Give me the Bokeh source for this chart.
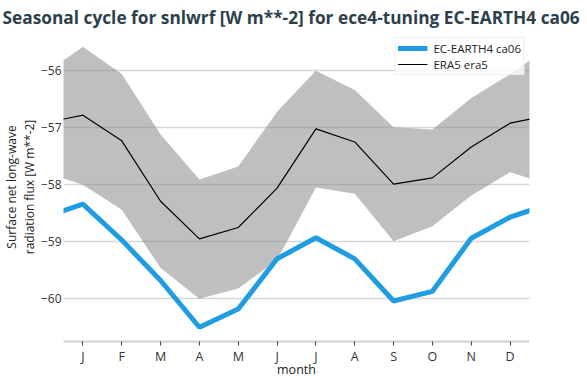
from bokeh.plotting import figure
from bokeh.models import Range1d, FixedTicker, Legend, LegendItem, ColumnDataSource
from bokeh.embed import file_html
from bokeh.resources import INLINE

months = [1, 2, 3, 4, 5, 6, 7, 8, 9, 10, 11, 12]
month_labels = ["J", "F", "M", "A", "M", "J", "J", "A", "S", "O", "N", "D"]
model = [-58.34, -58.97, -59.68, -60.50, -60.18, -59.30, -58.93, -59.30, -60.04, -59.87, -58.94, -58.57]
era5 = [-56.78, -57.23, -58.29, -58.95, -58.75, -58.06, -57.02, -57.25, -57.99, -57.88, -57.34, -56.92]
era5_upper = [-55.58, -56.06, -57.12, -57.91, -57.68, -56.72, -56.00, -56.34, -56.99, -57.03, -56.48, -56.06]
era5_lower = [-58.00, -58.44, -59.46, -60.00, -59.82, -59.32, -58.05, -58.16, -58.99, -58.73, -58.19, -57.78]
y_ticks = [-60, -59, -58, -57, -56]


def wrap(v):
    return [v[-1]] + list(v) + [v[0]]


xs = [0] + months + [13]
src = ColumnDataSource(dict(x=xs, model=wrap(model), era5=wrap(era5),
                            up=wrap(era5_upper), lo=wrap(era5_lower)))

FONT = "Open Sans"

p = figure(width=587, height=380, output_backend="svg", toolbar_location=None,
           x_range=Range1d(0.5, 12.5), y_range=Range1d(-60.75, -55.33),
           title="Seasonal cycle for snlwrf [W m**-2] for ece4-tuning EC-EARTH4 ca06")
p.min_border_left = 40
p.min_border_right = 58
p.min_border_top = 0
p.min_border_bottom = 0
p.outline_line_color = None

p.title.text_font = FONT
p.title.text_font_size = "17.3px"
p.title.text_font_style = "bold"
p.title.text_color = "#2e3f4c"
p.title.offset = -61
p.title.standoff = 7

band = p.varea(x="x", y1="lo", y2="up", source=src, fill_color="gray", fill_alpha=0.5)
r_model = p.line(x="x", y="model", source=src, line_color="#1f9de0", line_width=5)
r_era5 = p.line(x="x", y="era5", source=src, line_color="black", line_width=1.2)

p.xgrid.grid_line_color = None
p.ygrid.grid_line_color = "#d8d8d8"
p.ygrid.grid_line_width = 1.5

p.xaxis.ticker = FixedTicker(ticks=months)
p.xaxis.major_label_overrides = {m: l for m, l in zip(months, month_labels)}
p.xaxis.axis_label = "month"
p.xaxis.axis_line_color = "#cfcfcf"
p.xaxis.axis_line_width = 2
p.xaxis.major_tick_line_color = "#444444"
p.xaxis.major_tick_out = 4
p.xaxis.major_tick_in = 0
p.xaxis.minor_tick_line_color = None
p.xaxis.major_label_standoff = 2
p.xaxis.axis_label_standoff = -7
p.xaxis.major_label_text_font_size = "12.5px"
p.xaxis.axis_label_text_font_size = "12.5px"

p.yaxis.ticker = FixedTicker(ticks=y_ticks)
p.yaxis.major_label_overrides = {t: ("\u2212" + str(abs(t))) for t in y_ticks}
p.yaxis.axis_label = "Surface net long-wave\nradiation flux [W m**-2]"
p.yaxis.axis_line_color = None
p.yaxis.major_tick_line_color = None
p.yaxis.major_tick_out = 0
p.yaxis.major_tick_in = 0
p.yaxis.minor_tick_line_color = None
p.yaxis.major_label_standoff = 2
p.yaxis.axis_label_standoff = 0
p.yaxis.axis_label_text_line_height = 1.05
p.yaxis.major_label_text_font_size = "12px"
p.yaxis.axis_label_text_font_size = "12px"

for ax in (p.xaxis[0], p.yaxis[0]):
    ax.major_label_text_font = FONT
    ax.major_label_text_color = "#333333"
    ax.axis_label_text_font = FONT
    ax.axis_label_text_font_style = "normal"
    ax.axis_label_text_color = "#222222"

legend = Legend(items=[LegendItem(label="EC-EARTH4 ca06", renderers=[r_model]),
                       LegendItem(label="ERA5 era5", renderers=[r_era5])],
                location="top_right")
legend.margin = 5
legend.padding = 2
legend.spacing = 0
legend.glyph_width = 30
legend.glyph_height = 16
legend.label_height = 16
legend.label_standoff = 6
legend.label_text_font = FONT
legend.label_text_font_size = "11.5px"
legend.label_text_color = "#222222"
legend.border_line_color = "#dddddd"
legend.background_fill_alpha = 0.8
p.add_layout(legend)

open("out.html", "w").write(file_html(p, INLINE))
